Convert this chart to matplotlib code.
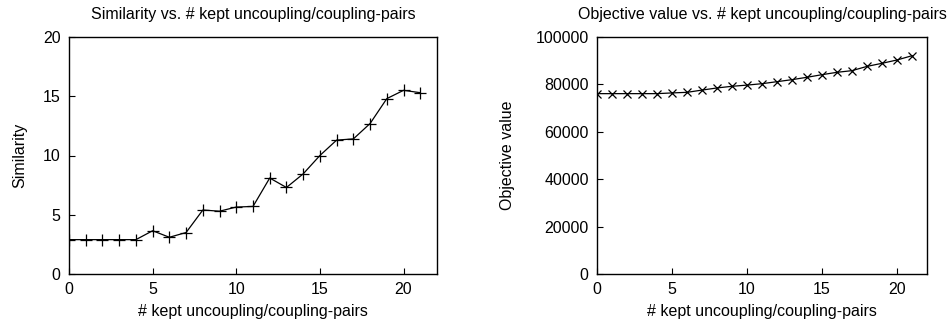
import matplotlib
matplotlib.use("Agg")
import matplotlib.pyplot as plt

plt.rcParams['font.family'] = ['Liberation Sans', 'DejaVu Sans']
plt.rcParams['font.size'] = 11.5

# kept uncoupling/coupling pairs
kept_pairs = list(range(22))
similarity = [2.9, 2.9, 2.9, 2.9, 2.9, 3.65, 3.1, 3.5, 5.4, 5.3, 5.65,
              5.7, 8.1, 7.3, 8.45, 10.0, 11.3, 11.4, 12.7, 14.8, 15.5, 15.3]
objective = [76100, 76100, 76100, 76100, 76100, 76400, 76650, 77600, 78500,
             79200, 79700, 80300, 81150, 82000, 83000, 84100, 85100, 85800,
             87600, 88900, 90300, 92100]
xticks = [0, 5, 10, 15, 20]

fig = plt.figure(figsize=(9.53, 3.28), dpi=100)
ax1 = fig.add_axes([69 / 953, 1 - 274 / 328, 368 / 953, 237 / 328])
ax2 = fig.add_axes([597 / 953, 1 - 274 / 328, 330 / 953, 237 / 328])


def style(ax):
    ax.set_xlim(0, 22)
    ax.set_xticks(xticks)
    ax.tick_params(direction='in', length=4, width=0.8, pad=6,
                   top=False, right=False)
    ax.tick_params(axis='y', pad=6)
    for sp in ax.spines.values():
        sp.set_linewidth(1.0)
    ax.set_xlabel('# kept uncoupling/coupling-pairs', labelpad=5)


ax1.plot(kept_pairs, similarity, color='black', linewidth=0.9,
         marker='+', markersize=8, markeredgewidth=0.9)
style(ax1)
ax1.set_ylim(0, 20)
ax1.set_yticks([0, 5, 10, 15, 20])
ax1.set_ylabel('Similarity', labelpad=11)
ax1.set_title('Similarity vs. # kept uncoupling/coupling-pairs',
              fontsize=11.5, pad=13)

ax2.plot(kept_pairs, objective, color='black', linewidth=0.9,
         marker='x', markersize=5.5, markeredgewidth=0.9)
style(ax2)
ax2.set_ylim(0, 100000)
ax2.set_yticks([0, 20000, 40000, 60000, 80000, 100000])
ax2.set_ylabel('Objective value', labelpad=15)
ax2.set_title('Objective value vs. # kept uncoupling/coupling-pairs',
              fontsize=11.5, pad=13)

fig.savefig('out.png', dpi=100)
